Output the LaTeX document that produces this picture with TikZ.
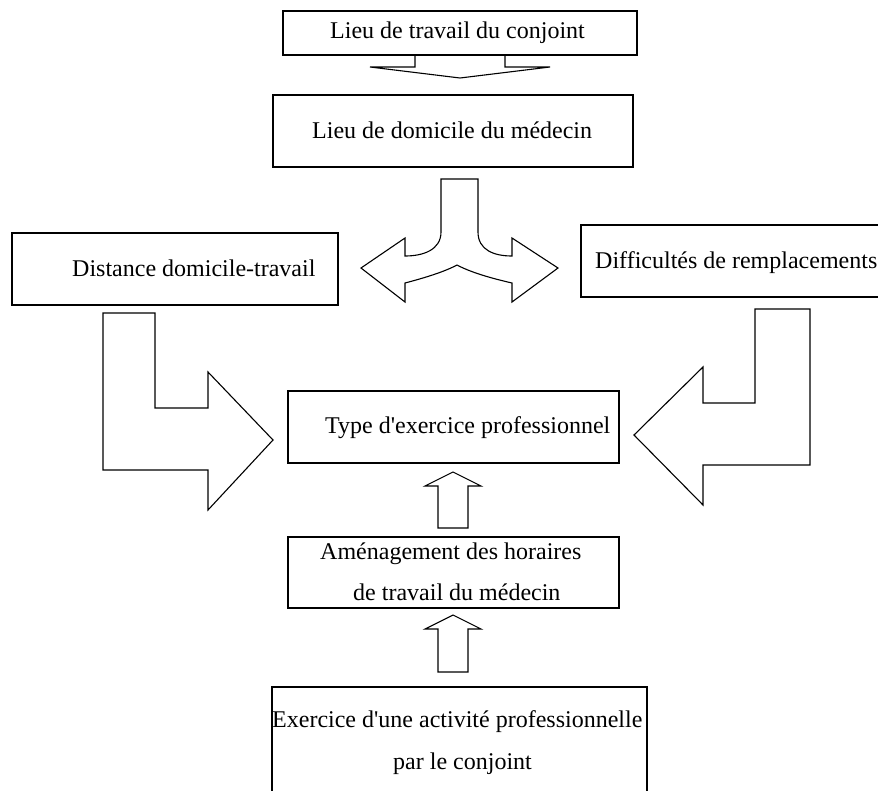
\documentclass[tikz,border=0pt]{standalone}
\usepackage{fontspec}
\setmainfont{Liberation Serif}[Ligatures=TeXOff]
\begin{document}
\begin{tikzpicture}[x=1pt,y=-1pt,
  box/.style={draw, line width=1.3pt, inner sep=0pt},
  txt/.style={anchor=mid west, inner sep=0pt, font=\fontsize{24}{24}\selectfont},
  blk/.style={draw, line width=1.1pt, line join=miter, fill=white}]
\useasboundingbox (0,0) rectangle (878,790);
\clip (0,0) rectangle (878,790);
% boxes
\node[box, minimum width=354pt, minimum height=44pt] (b1) at (460,33) {};
\node[box, minimum width=360pt, minimum height=72pt] (b2) at (453,131) {};
\node[box, minimum width=326pt, minimum height=72pt] (b3) at (175,269) {};
\node[box, minimum width=314pt, minimum height=72pt] (b4) at (738,261) {};
\node[box, minimum width=331pt, minimum height=72pt] (b5) at (453.5,427) {};
\node[box, minimum width=331pt, minimum height=71pt] (b6) at (453.5,572.5) {};
\node[box, minimum width=375pt, minimum height=118pt] (b7) at (459.5,746) {};
% texts
\node[txt] (t1) at (330,36) {Lieu de travail du conjoint};
\node[txt] (t2) at (312,136) {Lieu de domicile du médecin};
\node[txt] (t3) at (72,274) {Distance domicile-travail};
\node[txt] (t4) at (595,266) {Difficultés de remplacements};
\node[txt] (t5) at (325,431) {Type d'exercice professionnel};
\node[txt] (t6a) at (320,557) {Aménagement des horaires};
\node[txt] (t6b) at (353,598) {de travail du médecin};
\node[txt] (t7a) at (272,725) {Exercice d'une activité professionnelle};
\node[txt] (t7b) at (393,767) {par le conjoint};
% flat arrow b1 -> b2
\draw[blk, fill=none] (415,55) -- (415,67) -- (370,67) -- (460,78) -- (550,67) -- (505,67) -- (505,55);
% Y arrow from b2 to b3 and b4
\draw[blk] (441,179) -- (478,179) -- (478,232)
  .. controls (478,250) and (494,256) .. (512,256)
  -- (512,238) -- (558,268) -- (512,302) -- (512,283)
  .. controls (490,278) and (470,272) .. (457,265)
  .. controls (444,272) and (424,278) .. (405,283)
  -- (405,302) -- (361,268) -- (405,238) -- (405,256)
  .. controls (423,256) and (441,250) .. (441,232) -- cycle;
% bent arrow b3 -> b5
\draw[blk] (103,313) -- (155,313) -- (155,408) -- (208,408) -- (208,372) -- (273,440) -- (208,510) -- (208,470) -- (103,470) -- cycle;
% bent arrow b4 -> b5
\draw[blk] (755,309) -- (810,309) -- (810,465) -- (703,465) -- (703,505) -- (634,435) -- (703,367) -- (703,403) -- (755,403) -- cycle;
% up arrows
\draw[blk] (438,528) -- (438,486) -- (425,486) -- (453,472) -- (481,486) -- (468,486) -- (468,528) -- cycle;
\draw[blk] (438,672) -- (438,629) -- (425,629) -- (453,615) -- (481,629) -- (468,629) -- (468,672) -- cycle;
\end{tikzpicture}
\end{document}
